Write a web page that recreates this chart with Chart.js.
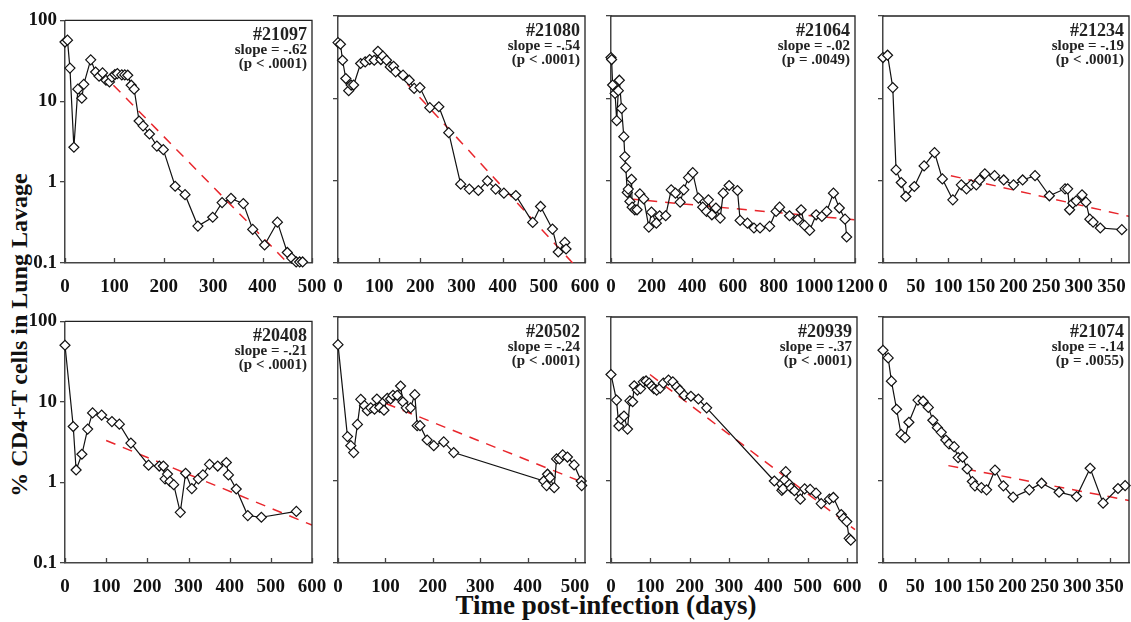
<!DOCTYPE html>
<html>
<head>
<meta charset="utf-8">
<script src="https://cdn.jsdelivr.net/npm/chart.js@4.4.0/dist/chart.umd.min.js"></script>
<style>
  body { margin: 0; background: #fff; overflow: hidden; width: 1131px; height: 622px; position: relative; font-family: "Liberation Serif", serif; color: #111; }
  canvas { position: absolute; }
  #ytitle { position: absolute; left: 19px; top: 335px; transform: translate(-50%, -50%) rotate(-90deg); white-space: nowrap; font-weight: bold; font-size: 24px; line-height: 24px; }
  #xtitle { position: absolute; left: 606px; top: 592px; transform: translateX(-50%); white-space: nowrap; font-weight: bold; font-size: 27px; line-height: 27px; }
</style>
</head>
<body>
<div id="ytitle">% CD4+T cells in Lung Lavage</div>
<div id="xtitle">Time post-infection (days)</div>
<script>
// animals, fit labels
const animals = ['#21097', '#21080', '#21064', '#21234', '#20408', '#20502', '#20939', '#21074'];
const slopes = ['slope = -.62', 'slope = -.54', 'slope = -.02', 'slope = -.19', 'slope = -.21', 'slope = -.24', 'slope = -.37', 'slope = -.14'];
const pValues = ['(p < .0001)', '(p < .0001)', '(p = .0049)', '(p < .0001)', '(p < .0001)', '(p < .0001)', '(p < .0001)', '(p = .0055)'];

// y axis (log) ticks
const yTicks = [0.1, 1, 10, 100];
const yTickLabels = ['0.1', '1', '10', '100'];

// x axis ticks / ranges per panel
const xMax = [500, 600, 1200, 377, 600, 521, 625, 380];
const xTicks = [
  [0, 100, 200, 300, 400, 500],
  [0, 100, 200, 300, 400, 500, 600],
  [0, 200, 400, 600, 800, 1000, 1200],
  [0, 50, 100, 150, 200, 250, 300, 350],
  [0, 100, 200, 300, 400, 500, 600],
  [0, 100, 200, 300, 400, 500],
  [0, 100, 200, 300, 400, 500, 600],
  [0, 50, 100, 150, 200, 250, 300, 350]
];

// #21097
const days21097 = [0, 5, 10, 18, 26, 34, 38, 52, 62, 69, 76, 83, 90, 95, 101, 106, 115, 121, 127, 134, 140, 150, 158, 171, 186, 199, 223, 243, 269, 299, 318, 336, 361, 380, 404, 430, 450, 459, 468, 475, 481];
const cd4_21097 = [54, 57, 25.7, 2.7, 14.1, 10.9, 16.2, 32.5, 23, 20.4, 22.4, 18.2, 17.3, 19.9, 21.4, 22, 21.2, 21.2, 21, 15.8, 14.1, 5.7, 4.97, 3.94, 2.79, 2.52, 0.89, 0.70, 0.286, 0.368, 0.558, 0.63, 0.543, 0.26, 0.167, 0.32, 0.135, 0.115, 0.103, 0.103, 0.103];
// #21080
const days21080 = [0, 6, 11, 19, 26, 32, 38, 55, 66, 77, 88, 97, 104, 109, 118, 127, 135, 140, 158, 173, 185, 199, 223, 245, 269, 298, 319, 341, 363, 383, 403, 432, 473, 492, 521, 535, 551, 554];
const cd4_21080 = [47.5, 45.4, 29, 17.4, 12.4, 14.5, 14.5, 26.5, 27.7, 29.6, 29, 37.3, 29.6, 32.5, 29, 24.1, 24.5, 21, 19.1, 16.6, 13.2, 13.5, 7.7, 7.9, 3.83, 0.906, 0.79, 0.76, 0.995, 0.79, 0.705, 0.66, 0.311, 0.486, 0.258, 0.136, 0.178, 0.148];
// #21064
const days21064 = [0, 3, 8, 20, 28, 36, 41, 52, 63, 68, 73, 80, 85, 93, 101, 104, 117, 128, 142, 161, 186, 199, 223, 239, 269, 296, 317, 340, 358, 381, 402, 430, 451, 470, 479, 496, 516, 537, 552, 581, 622, 635, 671, 703, 733, 780, 812, 829, 878, 918, 935, 952, 977, 1009, 1037, 1061, 1094, 1123, 1151, 1159];
const cd4_21064 = [31.3, 29.6, 14.5, 11.5, 5.35, 12.4, 16.6, 7.55, 3.42, 1.96, 1.44, 0.72, 0.79, 0.56, 1.04, 0.477, 0.443, 0.443, 0.69, 0.60, 0.273, 0.415, 0.305, 0.375, 0.375, 0.774, 0.705, 0.548, 0.774, 1.09, 1.25, 0.614, 0.477, 0.423, 0.585, 0.385, 0.465, 0.351, 0.705, 0.873, 0.76, 0.329, 0.305, 0.266, 0.266, 0.279, 0.423, 0.477, 0.375, 0.335, 0.443, 0.286, 0.249, 0.385, 0.368, 0.423, 0.705, 0.465, 0.341, 0.207];
// #21234
const days21234 = [0, 7, 15, 20, 28, 35, 48, 63, 79, 91, 107, 120, 128, 135, 143, 148, 156, 171, 185, 200, 214, 233, 255, 279, 283, 286, 291, 296, 305, 311, 317, 322, 333, 366];
const cd4_21234 = [31.3, 33.4, 13.5, 1.35, 0.949, 0.643, 0.85, 1.51, 2.19, 1.05, 0.585, 0.89, 0.796, 0.89, 0.89, 1.02, 1.21, 1.15, 1.02, 0.89, 1.02, 1.15, 0.655, 0.796, 0.796, 0.443, 0.533, 0.569, 0.673, 0.548, 0.341, 0.314, 0.266, 0.254];
// #20408
const days20408 = [0, 20, 27, 41, 55, 67, 89, 114, 132, 160, 203, 229, 239, 243, 249, 255, 264, 280, 293, 308, 324, 335, 351, 371, 392, 397, 416, 444, 477, 562];
const cd4_20408 = [50.6, 4.95, 1.43, 2.24, 4.6, 7.3, 6.87, 5.7, 5.3, 3.08, 1.64, 1.6, 1.6, 1.11, 1.27, 1.03, 0.94, 0.426, 1.3, 0.84, 1.11, 1.24, 1.68, 1.6, 1.77, 1.24, 0.83, 0.388, 0.37, 0.437];
// #20502
const days20502 = [0, 20, 27, 33, 41, 48, 56, 62, 69, 77, 82, 88, 97, 104, 111, 116, 125, 132, 137, 144, 153, 162, 167, 173, 188, 202, 223, 244, 434, 440, 442, 447, 456, 461, 467, 474, 484, 498, 513, 514];
const cd4_20502 = [46, 3.48, 2.7, 2.22, 4.9, 9.9, 8.3, 7.2, 7.8, 7.5, 10, 7.9, 7.3, 10.2, 10, 11.1, 11.1, 14.4, 9.2, 7.8, 7.8, 11.3, 4.73, 4.73, 3.16, 2.7, 3.0, 2.22, 1.0, 0.88, 1.21, 1.1, 0.83, 1.86, 1.86, 2.08, 1.96, 1.57, 1.0, 0.88];
// #20939
const days20939 = [0, 14, 20, 25, 33, 42, 48, 55, 59, 67, 75, 82, 89, 97, 103, 109, 116, 125, 133, 146, 157, 167, 175, 186, 203, 222, 243, 415, 434, 437, 441, 444, 453, 458, 466, 481, 492, 506, 521, 534, 555, 565, 585, 591, 599, 605, 609];
const cd4_20939 = [19.9, 9.7, 4.69, 5.7, 6.2, 4.3, 9.5, 9.25, 14.5, 12.8, 13.4, 16.2, 16.6, 15.6, 14.4, 13.4, 12.8, 13.6, 15.6, 17, 16.2, 14.1, 12.8, 11.1, 10.8, 10, 7.8, 1.0, 0.77, 0.8, 1.03, 1.3, 0.91, 0.82, 0.76, 0.6, 0.8, 0.79, 0.71, 0.53, 0.6, 0.63, 0.39, 0.35, 0.32, 0.2, 0.19];
// #21074
const days21074 = [0, 8, 13, 21, 28, 34, 40, 54, 62, 70, 77, 84, 90, 97, 102, 110, 116, 123, 130, 138, 142, 152, 160, 173, 186, 201, 226, 245, 272, 299, 320, 340, 363, 374];
const cd4_21074 = [39.3, 31.7, 16.5, 7.5, 3.7, 3.38, 5.2, 9.7, 9.4, 7.9, 5.5, 4.47, 3.92, 3.16, 2.83, 2.62, 1.93, 1.95, 1.4, 0.986, 0.873, 0.83, 0.78, 1.36, 0.873, 0.635, 0.78, 0.94, 0.73, 0.647, 1.43, 0.537, 0.81, 0.88];

// regression line end points (start, end)
const fitDays = [[98, 451], [109, 570], [90, 1200], [104, 378], [100, 600], [101, 521], [99, 620], [101, 380]];
const fitCd4 = [[15.8, 0.1], [31.3, 0.1], [0.6, 0.335], [1.15, 0.368], [3.32, 0.295], [8.8, 0.94], [19.9, 0.255], [1.54, 0.578]];

const allDays = [days21097, days21080, days21064, days21234, days20408, days20502, days20939, days21074];
const allCd4 = [cd4_21097, cd4_21080, cd4_21064, cd4_21234, cd4_20408, cd4_20502, cd4_20939, cd4_21074];

// layout of the plot areas on the page
const colLeft = [65, 338, 611, 883];
const colRight = [312, 585, 857, 1129];
const rowTop = [16, 317];
const rowBottom = [263, 563];
const AXIS_W = 60, AXIS_H = 30, PAD_T = 10, PAD_R = 22;

const tickFont = { family: '"Liberation Serif", serif', weight: 'bold', size: 19 };
const axisColor = '#444';

// frame, inward x ticks and the animal label
const panelDecor = {
  id: 'panelDecor',
  afterDraw(chart, args, opts) {
    const { ctx, chartArea: a, scales } = chart;
    ctx.save();
    ctx.strokeStyle = '#222';
    ctx.lineWidth = 1.3;
    ctx.beginPath();
    ctx.moveTo(a.left, a.top);
    ctx.lineTo(a.right, a.top);
    ctx.lineTo(a.right, a.bottom);
    ctx.stroke();

    ctx.strokeStyle = axisColor;
    ctx.beginPath();
    scales.x.ticks.forEach(t => {
      const px = Math.round(scales.x.getPixelForValue(t.value)) + 0.5;
      ctx.moveTo(px, a.bottom);
      ctx.lineTo(px, a.bottom - 5);
    });
    ctx.stroke();

    ctx.fillStyle = '#222';
    ctx.textAlign = 'right';
    ctx.textBaseline = 'alphabetic';
    ctx.font = 'bold 18px "Liberation Serif"';
    ctx.fillText(opts.lines[0], a.right - 5, a.top + 20);
    ctx.font = 'bold 15px "Liberation Serif"';
    ctx.fillText(opts.lines[1], a.right - 5, a.top + 34);
    ctx.fillText(opts.lines[2], a.right - 5, a.top + 48);
    ctx.restore();
  }
};

animals.forEach((animal, i) => {
  const col = i % 4, row = Math.floor(i / 4);
  const cv = document.createElement('canvas');
  cv.width = colRight[col] - colLeft[col] + AXIS_W + PAD_R;
  cv.height = rowBottom[row] - rowTop[row] + PAD_T + AXIS_H;
  cv.style.left = (colLeft[col] - AXIS_W) + 'px';
  cv.style.top = (rowTop[row] - PAD_T) + 'px';
  document.body.appendChild(cv);

  const points = allDays[i].map((d, k) => ({ x: d, y: allCd4[i][k] }));
  const fit = fitDays[i].map((d, k) => ({ x: d, y: fitCd4[i][k] }));

  new Chart(cv, {
    type: 'line',
    data: {
      datasets: [
        {
          data: points,
          borderColor: '#111',
          borderWidth: 1.2,
          pointStyle: 'rectRot',
          pointRadius: 5,
          pointBackgroundColor: '#fff',
          pointBorderColor: '#111',
          pointBorderWidth: 1.2,
          clip: false,
          order: 1
        },
        {
          data: fit,
          borderColor: '#e8262c',
          borderWidth: 1.5,
          borderDash: [10, 8],
          pointRadius: 0,
          order: 2
        }
      ]
    },
    options: {
      responsive: false,
      animation: false,
      layout: { padding: { top: PAD_T, right: PAD_R, left: 0, bottom: 0 } },
      plugins: {
        legend: { display: false },
        tooltip: { enabled: false },
        panelDecor: { lines: [animal, slopes[i], pValues[i]] }
      },
      scales: {
        x: {
          type: 'linear',
          min: 0,
          max: xMax[i],
          afterBuildTicks: s => { s.ticks = xTicks[i].map(v => ({ value: v })); },
          afterFit: s => { s.height = AXIS_H; },
          grid: { display: false },
          border: { color: axisColor, width: 1.5 },
          ticks: { padding: 5, color: '#111', font: tickFont, maxRotation: 0, autoSkip: false, callback: v => String(v) }
        },
        y: {
          type: 'logarithmic',
          min: 0.1,
          max: 100,
          afterBuildTicks: s => { s.ticks = yTicks.map(v => ({ value: v })); },
          afterFit: s => { s.width = AXIS_W; },
          grid: { drawOnChartArea: false, color: axisColor, lineWidth: 1.3, tickLength: 5 },
          border: { color: axisColor, width: 1.5 },
          ticks: {
            display: col === 0,
            padding: 3,
            color: '#111',
            font: tickFont,
            callback: (v, idx) => yTickLabels[idx]
          }
        }
      }
    },
    plugins: [panelDecor]
  });
});
</script>
</body>
</html>
